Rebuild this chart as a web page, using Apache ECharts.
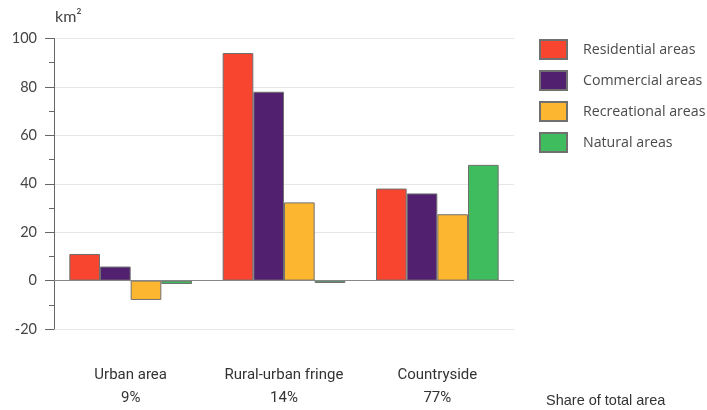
<!DOCTYPE html>
<html><head><meta charset="utf-8">
<script src="https://cdn.jsdelivr.net/npm/echarts@6/dist/echarts.min.js"></script>
<style>html,body{margin:0;padding:0;background:#fff}#c{width:707px;height:410px}</style>
</head><body><div id="c"></div>
<script>
const categories = ['Urban area', 'Rural-urban fringe', 'Countryside'];
const shares = ['9%', '14%', '77%'];
const residential = [11, 94, 38];
const commercial = [5.8, 78, 36];
const recreational = [-8, 32.3, 27.4];
const natural = [-1.4, -1, 47.8];
const seriesNames = ['Residential areas', 'Commercial areas', 'Recreational areas', 'Natural areas'];
const colors = ['#f7452f', '#51206f', '#fdb62f', '#3fbc5d'];
const yTicks = [-20, 0, 20, 40, 60, 80, 100];

const chart = echarts.init(document.getElementById('c'));
const values = [residential, commercial, recreational, natural];
const series = values.map((v, i) => ({
  name: seriesNames[i], type: 'bar', data: v,
  barGap: '0%', barCategoryGap: '20%',
  itemStyle: { color: colors[i], borderColor: '#707070', borderWidth: 1 },
  emphasis: { disabled: true }
}));
series[0].markLine = {
  silent: true, symbol: 'none', label: { show: false },
  lineStyle: { color: '#888', width: 1, type: 'solid' },
  data: [{ yAxis: 0 }], z: 10
};
chart.setOption({
  animation: false,
  color: colors,
  grid: { left: 54, right: 193, top: 38.5, bottom: 78, containLabel: false },
  legend: {
    orient: 'vertical', left: 534, top: 34,
    itemWidth: 27, itemHeight: 19, itemGap: 10, icon: 'rect',
    textStyle: { fontFamily: 'Open Sans', fontSize: 14.2, color: '#4a4a4a', padding: [0, 0, 0, 11] },
    data: seriesNames
  },
  xAxis: {
    type: 'category', data: categories,
    axisLine: { show: false, onZero: false }, axisTick: { show: false },
    axisLabel: {
      interval: 0, hideOverlap: false,
      margin: 35, fontFamily: 'Roboto', fontSize: 15, color: '#333', lineHeight: 23,
      formatter: (v, i) => v + '\n' + shares[i]
    }
  },
  yAxis: {
    type: 'value', min: yTicks[0], max: yTicks[yTicks.length - 1], interval: 20,
    axisLine: { show: true, lineStyle: { color: '#666' } },
    axisTick: { show: true, length: 9, lineStyle: { color: '#666' } },
    minorTick: { show: true, splitNumber: 2, length: 5, lineStyle: { color: '#666' } },
    splitLine: { lineStyle: { color: '#e6e6e6' } },
    axisLabel: { margin: 17, fontFamily: 'Lato', fontSize: 14.5, color: '#444' }
  },
  graphic: [
    { type: 'text', left: 55, top: 9, style: { text: 'km²', font: '16px Lato', fill: '#444' } },
    { type: 'text', left: 546, top: 393, style: { text: 'Share of total area', font: '14.5px "Liberation Sans"', fill: '#333' } }
  ],
  series
});
</script></body></html>
